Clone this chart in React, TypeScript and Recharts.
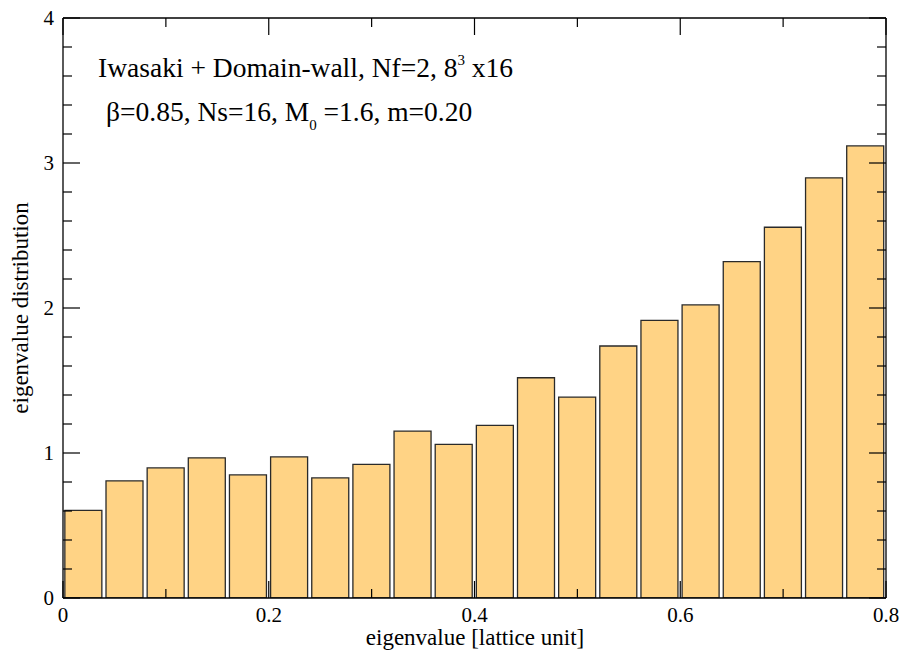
import React from "react";
import { BarChart, Bar, XAxis, YAxis, Customized } from "recharts";

const binCenters = [0.02, 0.06, 0.1, 0.14, 0.18, 0.22, 0.26, 0.3, 0.34, 0.38, 0.42, 0.46, 0.5, 0.54, 0.58, 0.62, 0.66, 0.7, 0.74, 0.78];
const distribution = [0.605, 0.808, 0.897, 0.967, 0.849, 0.973, 0.828, 0.921, 1.151, 1.059, 1.19, 1.519, 1.386, 1.738, 1.915, 2.021, 2.32, 2.557, 2.898, 3.118];
const xTicks = [0, 0.1, 0.2, 0.3, 0.4, 0.5, 0.6, 0.7, 0.8];
const xTickLabels: Record<string, string> = { "0": "0", "0.2": "0.2", "0.4": "0.4", "0.6": "0.6", "0.8": "0.8" };
const yTicks = [0, 0.2, 0.4, 0.6, 0.8, 1, 1.2, 1.4, 1.6, 1.8, 2, 2.2, 2.4, 2.6, 2.8, 3, 3.2, 3.4, 3.6, 3.8, 4];
const yTickLabels: Record<string, string> = { "0": "0", "1": "1", "2": "2", "3": "3", "4": "4" };

const data = binCenters.map((center, i) => ({ label: center.toFixed(2), center, value: distribution[i] }));

const FONT = "'Liberation Serif', 'Times New Roman', serif";
const MAJ = 17;
const MIN = 9;

const isYMajor = (v: number) => Math.abs(v - Math.round(v)) < 1e-6;
const isXMajor = (v: number) => Math.abs(v * 5 - Math.round(v * 5)) < 1e-6;

const LeftTick = (p: any) => {
  const v = p.payload.value;
  const major = isYMajor(v);
  return (
    <g>
      <line x1={p.x} x2={p.x + (major ? MAJ : MIN)} y1={p.y} y2={p.y} stroke="#000" strokeWidth={1.2} />
      {major && (
        <text x={p.x - 9} y={p.y} dy="0.35em" textAnchor="end" fontFamily={FONT} fontSize={21} fill="#000">
          {yTickLabels[String(Math.round(v))]}
        </text>
      )}
    </g>
  );
};

const RightTick = (p: any) => {
  const major = isYMajor(p.payload.value);
  return <line x1={p.x} x2={p.x - (major ? MAJ : MIN)} y1={p.y} y2={p.y} stroke="#000" strokeWidth={1.2} />;
};

const BottomTick = (p: any) => {
  const v = p.payload.value;
  const major = isXMajor(v);
  return (
    <g>
      <line x1={p.x} x2={p.x} y1={p.y} y2={p.y - (major ? MAJ : MIN)} stroke="#000" strokeWidth={1.2} />
      {major && (
        <text x={p.x} y={p.y + 24} textAnchor="middle" fontFamily={FONT} fontSize={21} fill="#000">
          {xTickLabels[String(Math.round(v * 10) / 10)]}
        </text>
      )}
    </g>
  );
};

const TopTick = (p: any) => {
  const major = isXMajor(p.payload.value);
  return <line x1={p.x} x2={p.x} y1={p.y} y2={p.y + (major ? MAJ : MIN)} stroke="#000" strokeWidth={1.2} />;
};

const Annotations = () => (
  <g fontFamily={FONT} fill="#000">
    <text x={98} y={77} fontSize={27.5}>
      Iwasaki + Domain-wall, Nf=2, 8
      <tspan dy={-12} fontSize={15}>3</tspan>
      <tspan dy={12}> x16</tspan>
    </text>
    <text x={106} y={121} fontSize={27.5}>
      β=0.85, Ns=16, M
      <tspan dy={9} fontSize={15}>0</tspan>
      <tspan dy={-9}> =1.6, m=0.20</tspan>
    </text>
    <text x={475} y={645} textAnchor="middle" fontSize={23}>eigenvalue [lattice unit]</text>
    <text x={28} y={308} textAnchor="middle" fontSize={23} transform="rotate(-90 28 308)">eigenvalue distribution</text>
  </g>
);

export default function App() {
  return (
    <div style={{ position: "absolute", left: 0, top: 0, background: "#fff" }}>
      <BarChart
        width={903}
        height={651}
        data={data}
        margin={{ top: 17, right: 16, bottom: 52, left: 62 }}
        barCategoryGap="4.5%"
      >
        <XAxis xAxisId="cat" dataKey="label" type="category" hide />
        <XAxis
          xAxisId="bottom"
          dataKey="center"
          orientation="bottom"
          type="number"
          domain={[0, 0.8]}
          allowDataOverflow
          ticks={xTicks}
          height={1}
          tickSize={0}
          tickMargin={0}
          tickLine={false}
          axisLine={{ stroke: "#000", strokeWidth: 1.3 }}
          tick={<BottomTick />}
          interval={0}
        />
        <XAxis
          xAxisId="top"
          dataKey="center"
          orientation="top"
          type="number"
          domain={[0, 0.8]}
          allowDataOverflow
          ticks={xTicks}
          height={1}
          tickSize={0}
          tickMargin={0}
          tickLine={false}
          axisLine={{ stroke: "#000", strokeWidth: 1.3 }}
          tick={<TopTick />}
          interval={0}
        />
        <YAxis
          yAxisId="left"
          orientation="left"
          type="number"
          domain={[0, 4]}
          allowDataOverflow
          ticks={yTicks}
          width={1}
          tickSize={0}
          tickMargin={0}
          tickLine={false}
          axisLine={{ stroke: "#000", strokeWidth: 1.3 }}
          tick={<LeftTick />}
          interval={0}
        />
        <YAxis
          yAxisId="right"
          dataKey="value"
          orientation="right"
          type="number"
          domain={[0, 4]}
          allowDataOverflow
          ticks={yTicks}
          width={1}
          tickSize={0}
          tickMargin={0}
          tickLine={false}
          axisLine={{ stroke: "#000", strokeWidth: 1.3 }}
          tick={<RightTick />}
          interval={0}
        />
        <Bar
          dataKey="value"
          xAxisId="cat"
          yAxisId="left"
          fill="#FFD385"
          stroke="#2a2a2a"
          strokeWidth={1.3}
          isAnimationActive={false}
        />
        <Customized component={<Annotations />} />
      </BarChart>
    </div>
  );
}
